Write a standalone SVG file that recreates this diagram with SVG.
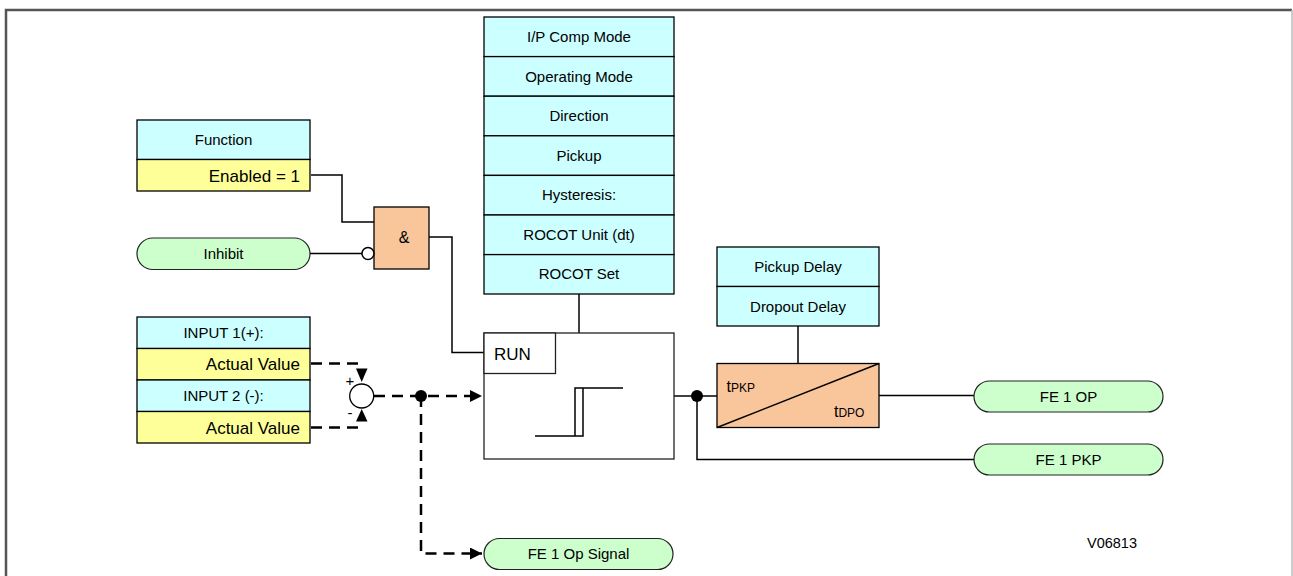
<svg xmlns="http://www.w3.org/2000/svg" width="1293" height="576" viewBox="0 0 1293 576">
<defs>
<style>
text{font-family:"Liberation Sans",Arial,sans-serif;fill:#000}
.c{fill:#ccffff;stroke:#000;stroke-width:1.3}
.y{fill:#ffff99;stroke:#000;stroke-width:1.3}
.o{fill:#f9c59b;stroke:#000;stroke-width:1.3}
.g{fill:#ccffcc;stroke:#222;stroke-width:1.2}
.w{fill:#fff;stroke:#222;stroke-width:1.3}
.lbl{font-size:15px;text-anchor:middle}
.val{font-size:17px;text-anchor:end}
.ln{fill:none;stroke:#000;stroke-width:1.5}
.dash{fill:none;stroke:#000;stroke-width:2.5;stroke-dasharray:11 7}
</style>
<marker id="arr" viewBox="0 0 10 10" refX="10" refY="5" markerWidth="13" markerHeight="12" markerUnits="userSpaceOnUse" orient="auto">
<path d="M0,0 L10,5 L0,10 Z" fill="#000"/>
</marker>
</defs>
<rect width="1293" height="576" fill="#fff"/>
<path d="M6,576 V10 H1292" fill="none" stroke="#555" stroke-width="2.5"/>
<path d="M1292,10 V576" fill="none" stroke="#bbb" stroke-width="1.5"/>

<g id="connectors">
<path class="ln" d="M311,175 H342 V222 H374"/>
<path class="ln" d="M310,253.5 H362"/>
<path class="ln" d="M429,237 H452 V352.5 H484"/>
<path class="dash" d="M311,363.5 H362"/>
<path class="dash" d="M311,427.5 H362"/>
<path d="M356,368.5 L367.5,368.5 L361.7,382 Z" fill="#000"/>
<path d="M356,421.5 L367.5,421.5 L361.7,409 Z" fill="#000"/>
<text x="350" y="386" font-size="15" text-anchor="middle">+</text>
<text x="350" y="418" font-size="15" text-anchor="middle">-</text>
<path class="dash" d="M374,396 H482" marker-end="url(#arr)"/>
<path class="dash" d="M421,396 V553.5 H482" marker-end="url(#arr)"/>
<circle cx="421" cy="396" r="6" fill="#000"/>
<path class="ln" d="M579,294 V333"/>
<path class="ln" d="M674,396 H717"/>
<path class="ln" d="M697,396 V459.5 H974"/>
<circle cx="697" cy="396" r="6" fill="#000"/>
<path class="ln" d="M798,326 V363"/>
<path class="ln" d="M879,395.5 H974"/>
</g>

<g id="function">
<rect class="c" x="137" y="120" width="173" height="39.5"/>
<rect class="y" x="137" y="159.5" width="173" height="31.5"/>
<text class="lbl" x="223.5" y="145">Function</text>
<text class="val" x="300" y="181.5">Enabled = 1</text>
</g>

<g id="inhibit">
<rect class="g" x="137" y="238" width="173" height="31.5" rx="15.75"/>
<text class="lbl" x="223.5" y="259">Inhibit</text>
</g>

<g id="and-gate">
<rect class="o" x="374" y="207" width="55" height="62"/>
<text x="404" y="243" font-size="16" text-anchor="middle">&amp;</text>
<circle cx="368" cy="253.5" r="6" fill="#fff" stroke="#000" stroke-width="1.5"/>
</g>

<g id="inputs">
<rect class="c" x="137" y="317" width="173" height="31.5"/>
<rect class="y" x="137" y="348.5" width="173" height="31.5"/>
<rect class="c" x="137" y="380" width="173" height="31.5"/>
<rect class="y" x="137" y="411.5" width="173" height="31.5"/>
<text class="lbl" x="223.5" y="338">INPUT 1(+):</text>
<text class="val" x="300" y="370">Actual Value</text>
<text class="lbl" x="223.5" y="401">INPUT 2 (-):</text>
<text class="val" x="300" y="433.5">Actual Value</text>
</g>

<g id="summer">
<circle cx="361.7" cy="396" r="12" fill="#fff" stroke="#000" stroke-width="1.3"/>
</g>

<g id="settings">
<rect class="c" x="484" y="17" width="190" height="39.6"/>
<rect class="c" x="484" y="56.6" width="190" height="39.6"/>
<rect class="c" x="484" y="96.2" width="190" height="39.6"/>
<rect class="c" x="484" y="135.8" width="190" height="39.6"/>
<rect class="c" x="484" y="175.4" width="190" height="39.6"/>
<rect class="c" x="484" y="215" width="190" height="39.6"/>
<rect class="c" x="484" y="254.6" width="190" height="39.4"/>
<text class="lbl" x="579" y="42">I/P Comp Mode</text>
<text class="lbl" x="579" y="81.5">Operating Mode</text>
<text class="lbl" x="579" y="121">Direction</text>
<text class="lbl" x="579" y="160.5">Pickup</text>
<text class="lbl" x="579" y="200">Hysteresis:</text>
<text class="lbl" x="579" y="239.5">ROCOT Unit (dt)</text>
<text class="lbl" x="579" y="279">ROCOT Set</text>
</g>

<g id="comparator">
<rect class="w" x="484" y="333" width="190" height="126"/>
<rect class="w" x="484" y="333" width="71.5" height="40.5"/>
<text x="494" y="359.5" font-size="17">RUN</text>
<path class="ln" d="M535,436 H583 V388 H575 V436 M583,388 H623" stroke-width="1.5"/>
</g>

<g id="delays">
<rect class="c" x="717" y="247" width="162" height="39.5"/>
<rect class="c" x="717" y="286.5" width="162" height="39.5"/>
<text class="lbl" x="798" y="272">Pickup Delay</text>
<text class="lbl" x="798" y="311.5">Dropout Delay</text>
</g>

<g id="timer">
<rect class="o" x="717" y="363.5" width="162" height="64"/>
<path class="ln" d="M717,427.5 L879,363.5"/>
<text x="726.5" y="391.5" font-size="16">t<tspan font-size="12">PKP</tspan></text>
<text x="834" y="417" font-size="16">t<tspan font-size="12">DPO</tspan></text>
</g>

<g id="fe1-op">
<rect class="g" x="974" y="381" width="189" height="31" rx="15.5"/>
<text class="lbl" x="1068.5" y="401.5">FE 1 OP</text>
</g>

<g id="fe1-pkp">
<rect class="g" x="974" y="444" width="189" height="31" rx="15.5"/>
<text class="lbl" x="1068.5" y="464.5">FE 1 PKP</text>
</g>

<g id="fe1-op-signal">
<rect class="g" x="484" y="538.5" width="189" height="31" rx="15.5"/>
<text class="lbl" x="578.5" y="559">FE 1 Op Signal</text>
</g>

<text x="1112" y="547.5" font-size="14.5" text-anchor="middle">V06813</text>
</svg>
